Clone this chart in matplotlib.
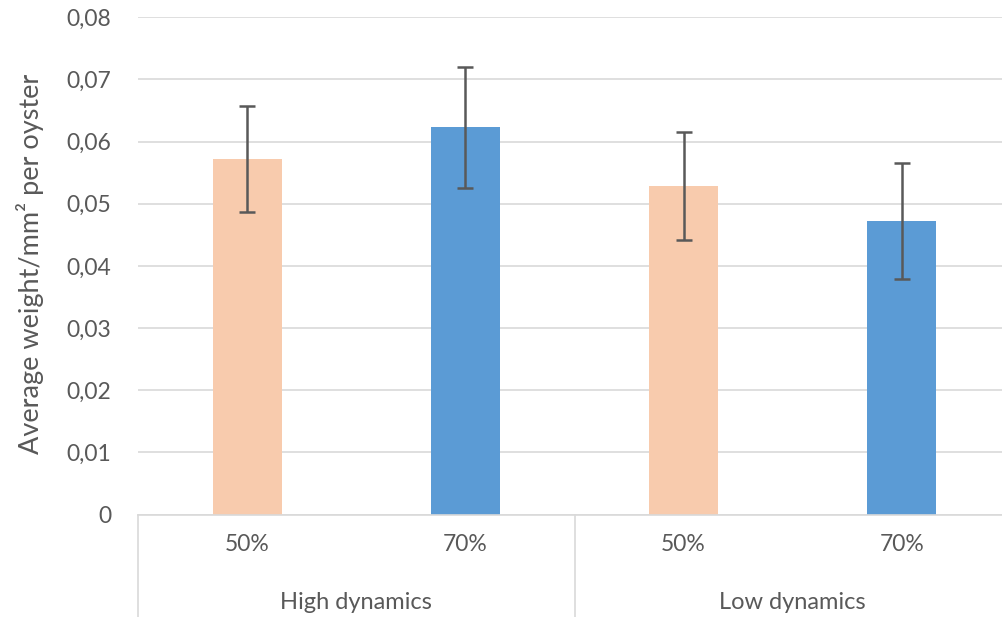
import matplotlib.pyplot as plt
import matplotlib.transforms as mtransforms

# data
groups = ['High dynamics', 'Low dynamics']
shades = ['50%', '70%', '50%', '70%']
weights = [0.0572, 0.0623, 0.0528, 0.0472]
errors = [0.0085, 0.0097, 0.0087, 0.0093]
bar_colors = ['#F8CBAD', '#5B9BD5', '#F8CBAD', '#5B9BD5']
y_ticks = [0, 0.01, 0.02, 0.03, 0.04, 0.05, 0.06, 0.07, 0.08]
y_tick_labels = ['0', '0,01', '0,02', '0,03', '0,04', '0,05', '0,06', '0,07', '0,08']

plt.rcParams['font.family'] = ['Lato', 'DejaVu Sans']
text_color = '#595959'
grid_color = '#D9D9D9'

fig = plt.figure(figsize=(10.02, 6.17), dpi=100)
ax = fig.add_axes([138 / 1002, 102.5 / 617, 873 / 1002, 497.2 / 617])

x = list(range(len(weights)))
ax.bar(x, weights, width=0.316, color=bar_colors, zorder=2)
ax.errorbar(x, weights, yerr=errors, fmt='none', ecolor=text_color,
            elinewidth=1.8, capsize=6, capthick=1.8, zorder=3)

ax.set_xlim(-0.5, 3.5)
ax.set_ylim(0, 0.08)
ax.set_yticks(y_ticks)
ax.set_yticklabels(y_tick_labels)
ax.yaxis.grid(True, color=grid_color, linewidth=1.2, zorder=0)
ax.set_axisbelow(True)

for s in ['top', 'right', 'left']:
    ax.spines[s].set_visible(False)
ax.spines['bottom'].set_color(grid_color)
ax.spines['bottom'].set_linewidth(1.2)

ax.tick_params(axis='y', length=0, pad=19, labelsize=16.5, labelcolor=text_color)
ax.set_xticks(x)
ax.set_xticklabels(shades)
ax.tick_params(axis='x', length=0, pad=14, labelsize=16.5, labelcolor=text_color)

# multi-level category axis: separators and group labels
trans = mtransforms.blended_transform_factory(ax.transData, ax.transAxes)
for xs in [-0.5, 1.5, 3.5]:
    ax.plot([xs, xs], [0, -0.25], transform=trans, color=grid_color,
            linewidth=1.2, clip_on=False)
for i, g in enumerate(groups):
    ax.text(2 * i + 0.5, -0.176, g, transform=trans, ha='center', va='center',
            fontsize=17, color=text_color)

fig.text(30 / 1002, 0.573, 'Average weight/mm² per oyster', rotation=90,
         ha='center', va='center', fontsize=19.5, color=text_color)

fig.savefig('out.png', dpi=100)
